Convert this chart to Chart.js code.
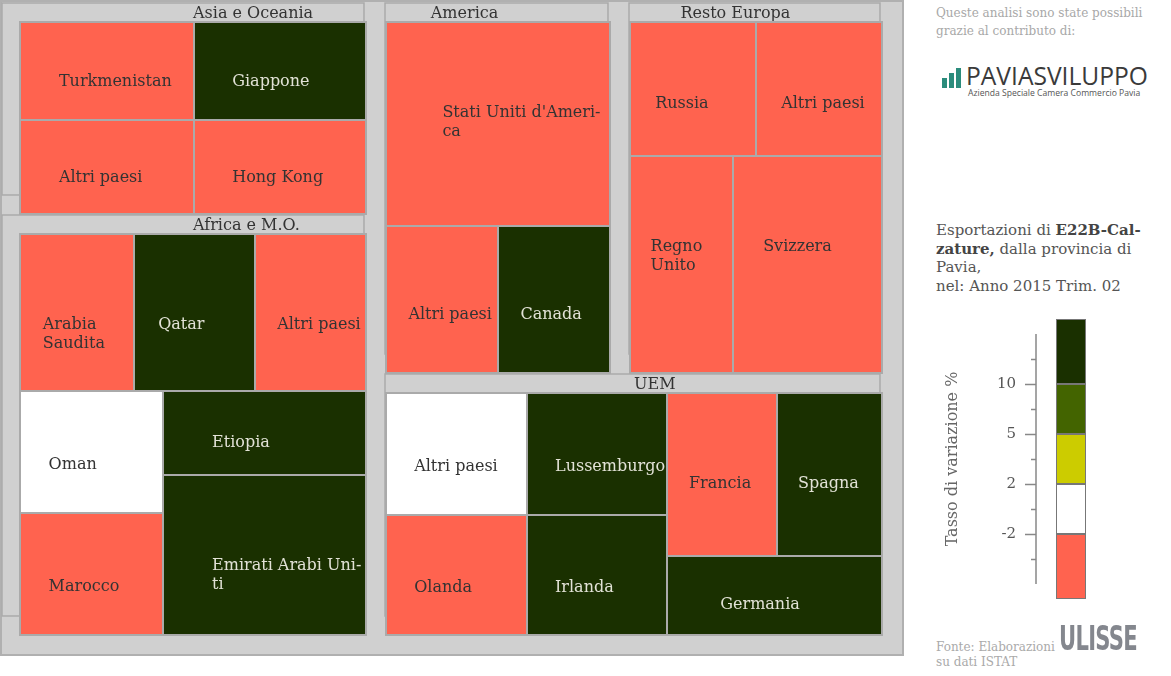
<!DOCTYPE html>
<html>
<head>
<meta charset="utf-8">
<script src="https://cdn.jsdelivr.net/npm/chart.js@4.4.1/dist/chart.umd.min.js"></script>
<style>
  body { margin: 0; background: #fff; width: 1171px; height: 676px; overflow: hidden; position: relative; font-family: "DejaVu Serif", serif; }
  #mappa { position: absolute; left: 0; top: 0; }
  #legenda { position: absolute; left: 930px; top: 300px; }
  .testo { position: absolute; white-space: nowrap; }
  .crediti { left: 936px; top: 4px; font-size: 12px; line-height: 18px; color: #a8a8a8; }
  .titolo { left: 936px; top: 221px; font-size: 15px; line-height: 18.5px; color: #555; }
  .titolo b { color: #444; }
  .fonte { left: 936px; top: 640px; font-size: 12px; line-height: 15px; color: #aaa; }
  .logo { left: 942px; top: 62px; width: 215px; height: 40px; }
  .logo .barra { position: absolute; bottom: 14px; width: 5px; background: #2b8c7c; }
  .logo .nome { position: absolute; left: 24px; top: 1px; font-family: "Open Sans", sans-serif; font-size: 24.6px; line-height: 26px; color: #3a3a3a; }
  .logo .sotto { position: absolute; left: 26px; top: 25px; font-family: "Open Sans", sans-serif; font-size: 8.6px; color: #555; }
  .ulisse { left: 1059px; top: 620px; font-family: "DejaVu Sans Condensed", "DejaVu Sans", sans-serif; font-weight: bold; font-size: 34px; line-height: 36px; color: #84878e; letter-spacing: -1px; transform: scaleX(0.69); transform-origin: 0 0; }
</style>
</head>
<body>
<canvas id="mappa" width="905" height="658"></canvas>
<canvas id="legenda" width="180" height="320"></canvas>

<div class="testo crediti">Queste analisi sono state possibili<br>grazie al contributo di:</div>
<div class="testo logo">
  <div class="barra" style="left:0;height:10px"></div>
  <div class="barra" style="left:7px;height:15px"></div>
  <div class="barra" style="left:14px;height:20px"></div>
  <div class="nome">PAVIASVILUPPO</div>
  <div class="sotto">Azienda Speciale Camera Commercio Pavia</div>
</div>
<div class="testo titolo">Esportazioni di <b>E22B-Cal-</b><br><b>zature,</b> dalla provincia di<br>Pavia,<br>nel: Anno 2015 Trim. 02</div>
<div class="testo fonte">Fonte: Elaborazioni<br>su dati ISTAT</div>
<div class="testo ulisse">ULISSE</div>

<script>
// Gruppi (macro aree) nell'ordine del treemap
const gruppi = ["Asia e Oceania", "Africa e M.O.", "America", "Resto Europa", "UEM"];

// Paesi, valori esportati (stimati) e tasso di variazione % (stimato dalla classe di colore)
const paesiAsia = ["Turkmenistan", "Altri paesi", "Giappone", "Hong Kong"];
const valoriAsia = [199.6, 191.4, 197.2, 189.2];
const tassiAsia = [-30, -8, 25, -15];

const paesiAfrica = ["Arabia Saudita", "Qatar", "Altri paesi", "Oman", "Marocco", "Etiopia", "Emirati Arabi Uniti"];
const valoriAfrica = [198.5, 210.8, 193.3, 193.6, 195.2, 189.9, 359.4];
const tassiAfrica = [-20, 40, -12, 0, -25, 60, 18];

const paesiAmerica = ["Stati Uniti d'America", "Altri paesi", "Canada"];
const valoriAmerica = [525.4, 190.2, 188.5];
const tassiAmerica = [-10, -18, 30];

const paesiEuropa = ["Russia", "Altri paesi", "Regno Unito", "Svizzera"];
const valoriEuropa = [193.8, 192.3, 256.6, 368.7];
const tassiEuropa = [-35, -6, -9, -14];

const paesiUem = ["Altri paesi", "Olanda", "Lussemburgo", "Irlanda", "Francia", "Spagna", "Germania"];
const valoriUem = [193.1, 189.9, 191.7, 188.6, 203.2, 192.1, 191.2];
const tassiUem = [1, -16, 45, 22, -5, 13, 15];

// Legenda: soglie delle classi del tasso di variazione
const soglie = [-2, 2, 5, 10];
const coloriClassi = ["#ff634f", "#ffffff", "#cccc00", "#436400", "#1a3000"];

const paesi = [paesiAsia, paesiAfrica, paesiAmerica, paesiEuropa, paesiUem];
const valori = [valoriAsia, valoriAfrica, valoriAmerica, valoriEuropa, valoriUem];
const tassi = [tassiAsia, tassiAfrica, tassiAmerica, tassiEuropa, tassiUem];

function coloreTasso(t) {
  let k = 0;
  while (k < soglie.length && t >= soglie[k]) k++;
  return coloriClassi[k];
}

function somma(a) { return a.reduce((s, v) => s + v, 0); }

function peggiore(riga, lato) {
  const s = somma(riga), mx = Math.max(...riga), mn = Math.min(...riga);
  return Math.max(lato * lato * mx / (s * s), (s * s) / (lato * lato * mn));
}

// squarified treemap, senza riordinare i valori
function squarify(vals, r) {
  let { x, y, w, h } = r;
  const k = (w * h) / somma(vals);
  const aree = vals.map(v => v * k);
  const out = [];
  let i = 0;
  while (i < aree.length) {
    const lato = Math.min(w, h);
    let riga = [aree[i]];
    let j = i + 1;
    while (j < aree.length) {
      const prova = riga.concat(aree[j]);
      if (peggiore(prova, lato) <= peggiore(riga, lato)) { riga = prova; j++; } else break;
    }
    const spess = somma(riga) / lato;
    if (w >= h) {
      let yy = y;
      riga.forEach(a => { const hh = a / spess; out.push({ x: x, y: yy, w: spess, h: hh }); yy += hh; });
      x += spess; w -= spess;
    } else {
      let xx = x;
      riga.forEach(a => { const ww = a / spess; out.push({ x: xx, y: y, w: ww, h: spess }); xx += ww; });
      y += spess; h -= spess;
    }
    i = j;
  }
  return out;
}

// a capo con sillabazione semplice (almeno 3 lettere prima del trattino, 2 dopo)
function spezza(ctx, testo, maxW) {
  const parole = testo.split(" ");
  const righe = [];
  let riga = "";
  for (const p of parole) {
    const prova = riga ? riga + " " + p : p;
    if (ctx.measureText(prova).width <= maxW) { riga = prova; continue; }
    let fatto = false;
    for (let n = p.length - 2; n >= 3; n--) {
      const pezzo = (riga ? riga + " " : "") + p.slice(0, n) + "-";
      if (ctx.measureText(pezzo).width <= maxW) { righe.push(pezzo); riga = p.slice(n); fatto = true; break; }
    }
    if (!fatto) { if (riga) righe.push(riga); riga = p; }
  }
  if (riga) righe.push(riga);
  return righe;
}

const cornice = { x: 0, y: 0, w: 903, h: 655 };
const spazio = 10;

const treemapPlugin = {
  id: "treemap",
  afterDraw(chart) {
    const ctx = chart.ctx;
    const xs = chart.scales.x, ys = chart.scales.y;
    const R = r => {
      const x0 = xs.getPixelForValue(r.x), x1 = xs.getPixelForValue(r.x + r.w);
      const y0 = ys.getPixelForValue(r.y), y1 = ys.getPixelForValue(r.y + r.h);
      return { x: Math.round(x0), y: Math.round(y0), w: Math.round(x1) - Math.round(x0), h: Math.round(y1) - Math.round(y0) };
    };
    ctx.save();
    const f = R(cornice);
    ctx.fillStyle = "#d0d0d0";
    ctx.fillRect(f.x, f.y, f.w, f.h);
    ctx.strokeStyle = "#b0b0b0";
    ctx.lineWidth = 2;
    ctx.strokeRect(f.x + 1, f.y + 1, f.w - 1, f.h - 1);

    const area = { x: cornice.x + spazio, y: cornice.y + 12, w: cornice.w - 2 * spazio - 1, h: cornice.h - 12 - spazio };
    const rettGruppi = squarify(valori.map(somma), area);
    const interni = rettGruppi.map(g => ({ x: g.x + spazio, y: g.y + spazio, w: g.w - 2 * spazio, h: g.h - 2 * spazio }));

    // riquadri dei gruppi con intestazione (spostati in alto di 20px)
    interni.forEach(a => {
      const b = R(a);
      const sx = b.x - 2 * spazio <= f.x + 2 ? f.x + 2 : b.x - 1;
      ctx.fillStyle = "#d0d0d0";
      ctx.strokeStyle = "#aaaaaa";
      ctx.lineWidth = 1.5;
      ctx.fillRect(sx, b.y - 19, b.x + b.w - 2 - sx, b.h);
      ctx.strokeRect(sx, b.y - 19, b.x + b.w - 2 - sx, b.h);
    });
    interni.forEach((a, gi) => {
      const b = R(a);
      ctx.font = '16px "DejaVu Serif"';
      ctx.fillStyle = "#333";
      ctx.textAlign = "left";
      ctx.textBaseline = "middle";
      const tx = b.w > 300 ? b.x + b.w * 0.5 : b.x + b.w * 0.2;
      ctx.fillText(gruppi[gi], tx, b.y - 8);
    });

    // celle dei paesi
    interni.forEach((a, gi) => {
      const celle = squarify(valori[gi], a);
      celle.forEach((c, ci) => {
        const p = R(c);
        const col = coloreTasso(tassi[gi][ci]);
        ctx.fillStyle = col;
        ctx.fillRect(p.x, p.y, p.w, p.h);
        ctx.strokeStyle = "#aaaaaa";
        ctx.lineWidth = 2;
        ctx.strokeRect(p.x, p.y, p.w, p.h);
        ctx.font = '16px "DejaVu Serif"';
        ctx.textAlign = "left";
        ctx.textBaseline = "middle";
        ctx.fillStyle = (col === "#1a3000" || col === "#436400") ? "#e2e2d6" : "#333";
        const pad = Math.max(0.35 * p.w - 22, 0.2 * p.w);
        const righe = spezza(ctx, paesi[gi][ci], p.w - pad + 1);
        const y0 = p.y + Math.min(0.6 * p.h, 90) + 1;
        righe.forEach((r, k) => ctx.fillText(r, p.x + pad, y0 + k * 19));
      });
    });
    ctx.restore();
  }
};

new Chart(document.getElementById("mappa"), {
  type: "scatter",
  data: { datasets: [{ data: [], pointRadius: 0 }] },
  options: {
    responsive: false,
    animation: false,
    events: [],
    layout: { padding: 0 },
    plugins: { legend: { display: false }, tooltip: { enabled: false } },
    scales: {
      x: { type: "linear", min: 0, max: 905, display: false },
      y: { type: "linear", min: 0, max: 658, reverse: true, display: false }
    }
  },
  plugins: [treemapPlugin]
});

// Legenda a barra verticale: classi su scala a intervalli uguali
const estremi = [-0.3, 1, 2, 3, 4, 5.3];
const asseLegendaPlugin = {
  id: "asseLegenda",
  afterDraw(chart) {
    const ctx = chart.ctx, ys = chart.scales.y;
    const x = chart.chartArea.left;
    ctx.save();
    ctx.strokeStyle = "#888";
    ctx.lineWidth = 1.5;
    ctx.beginPath();
    ctx.moveTo(x, ys.getPixelForValue(0));
    ctx.lineTo(x, ys.getPixelForValue(5));
    for (let v = 0.5; v < 5; v += 0.5) {
      const y = Math.round(ys.getPixelForValue(v)) + 0.5;
      const len = Number.isInteger(v) ? 11 : 5;
      ctx.moveTo(x - len, y);
      ctx.lineTo(x, y);
    }
    ctx.stroke();
    ctx.restore();
  }
};

new Chart(document.getElementById("legenda"), {
  type: "bar",
  data: {
    labels: [""],
    datasets: coloriClassi.map((c, i) => ({
      data: [[estremi[i], estremi[i + 1]]],
      backgroundColor: c,
      borderColor: "#777",
      borderWidth: 1,
      borderSkipped: false,
      categoryPercentage: 1,
      barPercentage: 30 / 70
    }))
  },
  options: {
    responsive: false,
    animation: false,
    events: [],
    layout: { padding: { top: 19, bottom: 21, left: 0, right: 4 } },
    plugins: { legend: { display: false }, tooltip: { enabled: false } },
    scales: {
      x: { stacked: true, display: false },
      y: {
        min: estremi[0],
        max: estremi[estremi.length - 1],
        afterFit(scale) { scale.width = 106; },
        afterBuildTicks(scale) { scale.ticks = soglie.map((s, i) => ({ value: i + 1 })); },
        border: { display: false },
        grid: { drawOnChartArea: false, drawTicks: true, tickLength: 10, tickColor: "rgba(0,0,0,0)" },
        ticks: {
          padding: 10,
          color: "#555",
          font: { family: "DejaVu Serif", size: 15 },
          callback: (v) => String(soglie[v - 1])
        },
        title: {
          display: true,
          text: "Tasso di variazione %",
          color: "#666",
          font: { family: "DejaVu Serif", size: 16 },
          padding: { top: 13, bottom: 0 }
        }
      }
    }
  },
  plugins: [asseLegendaPlugin]
});
</script>
</body>
</html>
